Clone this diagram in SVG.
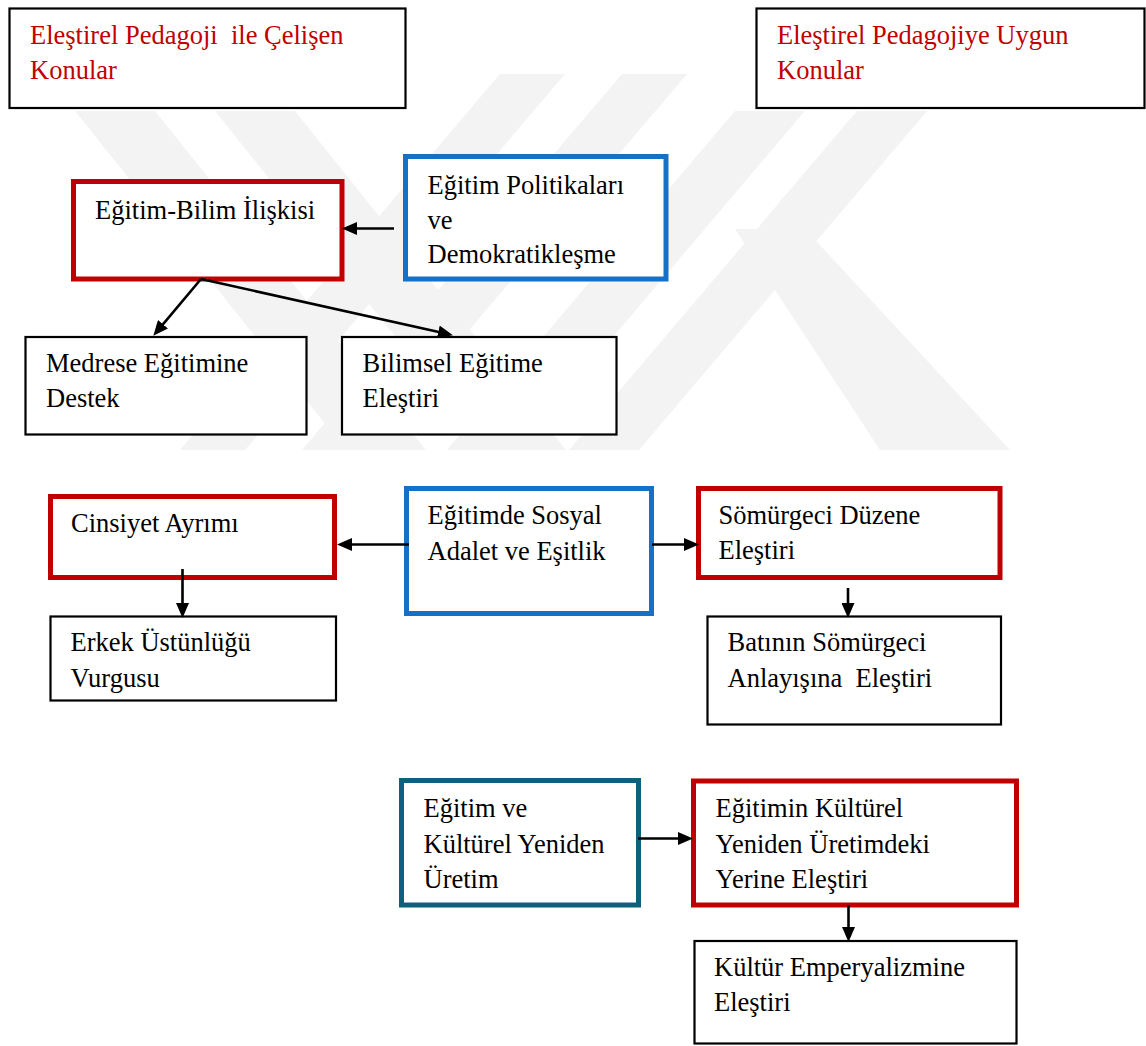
<svg xmlns="http://www.w3.org/2000/svg" width="1146" height="1046" viewBox="0 0 1146 1046">
  <defs>
    <style>
      text { font-family: "Liberation Serif", Tinos, "Times New Roman", "DejaVu Serif", serif; font-size: 26.5px; fill: #000; white-space: pre; }
      .head { fill: #c00000; }
      .box { fill: #fff; stroke: #000; stroke-width: 2.2; }
      .red { fill: #fff; stroke: #c00000; stroke-width: 5; }
      .blue { fill: #fff; stroke: #1570c6; stroke-width: 5; }
      .teal { fill: #fff; stroke: #0e607c; stroke-width: 5; }
      .wm { fill: #f3f3f3; }
      .link { fill: none; stroke: #000; stroke-width: 2.6; marker-end: url(#arrow); }
    </style>
    <marker id="arrow" viewBox="0 0 15 13" refX="4" refY="6.5" markerWidth="15" markerHeight="13" markerUnits="userSpaceOnUse" orient="auto">
      <path d="M0,0 L15,6.5 L0,13 z" fill="#000"/>
    </marker>
  </defs>

  <rect width="1146" height="1046" fill="#fff"/>

  <!-- background stripe emblem -->
  <g id="emblem">
    <polygon class="wm" points="75,111 155,111 426,450 346,450"/>
    <polygon class="wm" points="215,111 295,111 566,450 486,450"/>
    <polygon class="wm" points="500,74 565,74 245,450 180,450"/>
    <polygon class="wm" points="622,74 687,74 367,450 302,450"/>
    <polygon class="wm" points="735,111 805,111 517,450 447,450"/>
    <polygon class="wm" points="857,111 927,111 639,450 569,450"/>
    <polygon class="wm" points="735,229 805,229 1010,450 880,450"/>
  </g>

  <!-- headers -->
  <g id="header-left">
    <rect class="box" x="9.5" y="8.5" width="396" height="99.5"/>
    <text class="head" font-family="Liberation Serif, serif" x="30" y="44">Eleştirel Pedagoji  ile Çelişen</text>
    <text class="head" font-family="Liberation Serif, serif" x="30" y="78.5">Konular</text>
  </g>
  <g id="header-right">
    <rect class="box" x="756.5" y="8.5" width="388" height="99.5"/>
    <text class="head" font-family="Liberation Serif, serif" x="777" y="44">Eleştirel Pedagojiye Uygun</text>
    <text class="head" font-family="Liberation Serif, serif" x="777" y="78.5">Konular</text>
  </g>

  <!-- upper block -->
  <g id="egitim-bilim">
    <rect class="red" x="73.5" y="181.5" width="268.5" height="97.5"/>
    <text x="95" y="218.5">Eğitim-Bilim İlişkisi</text>
  </g>
  <g id="politikalar">
    <rect class="blue" x="405.5" y="156.5" width="260.5" height="122.5"/>
    <text x="427.5" y="193.5">Eğitim Politikaları</text>
    <text x="427.5" y="228.5">ve</text>
    <text x="427.5" y="263">Demokratikleşme</text>
  </g>
  <g id="medrese">
    <rect class="box" x="25.5" y="337" width="281" height="97.5"/>
    <text x="46" y="372">Medrese Eğitimine</text>
    <text x="46" y="406.5">Destek</text>
  </g>
  <g id="bilimsel">
    <rect class="box" x="342" y="337" width="274.5" height="97.5"/>
    <text x="362.5" y="372">Bilimsel Eğitime</text>
    <text x="362.5" y="406.5">Eleştiri</text>
  </g>

  <!-- middle block -->
  <g id="cinsiyet">
    <rect class="red" x="50.5" y="496.5" width="284" height="81"/>
    <text x="71" y="532">Cinsiyet Ayrımı</text>
  </g>
  <g id="sosyal-adalet">
    <rect class="blue" x="406.5" y="488.5" width="245" height="125"/>
    <text x="427.5" y="524">Eğitimde Sosyal</text>
    <text x="427.5" y="559.5">Adalet ve Eşitlik</text>
  </g>
  <g id="somurgeci">
    <rect class="red" x="698.5" y="488.5" width="301.5" height="89"/>
    <text x="718.5" y="524">Sömürgeci Düzene</text>
    <text x="718.5" y="558.5">Eleştiri</text>
  </g>
  <g id="erkek">
    <rect class="box" x="50.5" y="616.5" width="285.5" height="84"/>
    <text x="70.5" y="651">Erkek Üstünlüğü</text>
    <text x="70.5" y="687">Vurgusu</text>
  </g>
  <g id="batinin">
    <rect class="box" x="707.5" y="616.5" width="293.5" height="108"/>
    <text x="727.5" y="651">Batının Sömürgeci</text>
    <text x="727.5" y="687">Anlayışına  Eleştiri</text>
  </g>

  <!-- lower block -->
  <g id="kulturel-uretim">
    <rect class="teal" x="401.5" y="780.5" width="237" height="124.5"/>
    <text x="423.5" y="817">Eğitim ve</text>
    <text x="423.5" y="852.5">Kültürel Yeniden</text>
    <text x="423.5" y="887.5">Üretim</text>
  </g>
  <g id="kulturel-elestiri">
    <rect class="red" x="693.5" y="781" width="323" height="124"/>
    <text x="715.5" y="817">Eğitimin Kültürel</text>
    <text x="715.5" y="852.5">Yeniden Üretimdeki</text>
    <text x="715.5" y="887.5">Yerine Eleştiri</text>
  </g>
  <g id="emperyalizm">
    <rect class="box" x="694.5" y="941" width="322" height="102.5"/>
    <text x="714" y="976">Kültür Emperyalizmine</text>
    <text x="714" y="1010.5">Eleştiri</text>
  </g>

  <!-- connectors -->
  <g id="connectors">
    <line class="link" x1="394" y1="228.5" x2="353" y2="228.5"/>
    <line class="link" x1="201" y1="279" x2="160.4" y2="327.3"/>
    <line class="link" x1="201" y1="279" x2="442.2" y2="332.8"/>
    <line class="link" x1="409" y1="544.5" x2="348" y2="544.5"/>
    <line class="link" x1="652" y1="544.5" x2="688" y2="544.5"/>
    <line class="link" x1="182.5" y1="569" x2="182.5" y2="607"/>
    <line class="link" x1="848" y1="588" x2="848" y2="607"/>
    <line class="link" x1="638" y1="838.5" x2="682" y2="838.5"/>
    <line class="link" x1="848.5" y1="905" x2="848.5" y2="931"/>
  </g>
</svg>
